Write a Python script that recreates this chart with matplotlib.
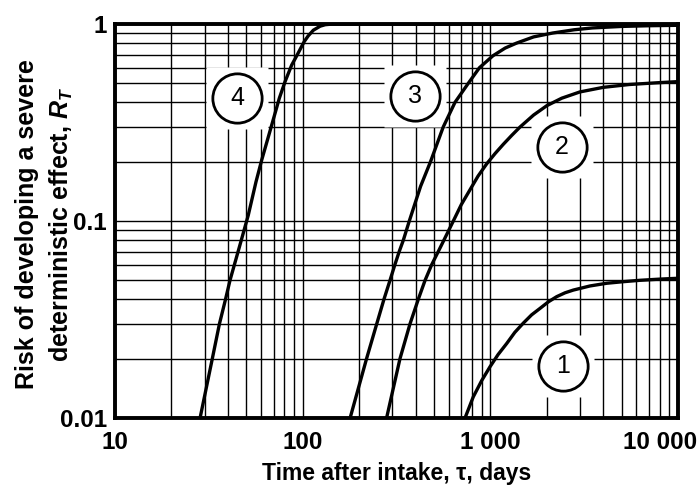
import matplotlib
matplotlib.use("Agg")
import matplotlib.pyplot as plt
from matplotlib.ticker import FixedLocator, NullFormatter, FixedFormatter

plt.rcParams['font.family'] = ['Liberation Sans', 'DejaVu Sans']
plt.rcParams['font.weight'] = 'bold'
plt.rcParams['mathtext.fontset'] = 'custom'
plt.rcParams['mathtext.it'] = 'Liberation Sans:bold:italic'
plt.rcParams['mathtext.rm'] = 'Liberation Sans:bold'

# ---- data ----
curve1_t = [733, 811, 900, 996, 1100, 1223, 1350, 1498, 1660, 1839, 2040, 2257, 2500, 2767, 3396, 4169, 5110, 6274, 8000, 10000]
curve1_r = [0.010, 0.0128, 0.0155, 0.0182, 0.0210, 0.0239, 0.0272, 0.0303, 0.0334, 0.0360, 0.0389, 0.0413, 0.0432, 0.0446, 0.0468, 0.0483, 0.0492, 0.0500, 0.0507, 0.0512]

curve2_t = [280, 330, 373, 413, 449, 487, 528, 566, 635, 700, 779, 860, 956, 1060, 1172, 1300, 1440, 1700, 2000, 2400, 3000, 4000, 5500, 7700, 10000]
curve2_r = [0.010, 0.020, 0.030, 0.040, 0.050, 0.060, 0.070, 0.080, 0.100, 0.121, 0.144, 0.169, 0.195, 0.220, 0.245, 0.272, 0.300, 0.345, 0.385, 0.420, 0.452, 0.477, 0.493, 0.503, 0.510]

curve3_t = [179, 219, 248, 271, 292, 310, 327, 344, 370, 425, 480, 561, 648, 763, 875, 1033, 1200, 1380, 1700, 2150, 2800, 3500, 5000, 7000, 10000]
curve3_r = [0.010, 0.020, 0.030, 0.040, 0.050, 0.060, 0.070, 0.080, 0.100, 0.150, 0.200, 0.300, 0.400, 0.500, 0.600, 0.690, 0.755, 0.800, 0.860, 0.900, 0.935, 0.955, 0.972, 0.980, 0.985]

curve4_t = [28.4, 33.0, 36.0, 38.8, 41.0, 45.8, 51.3, 56.4, 60.5, 68.4, 75.1, 80.5, 87.4, 93, 97.6, 102, 107, 114, 124, 132, 145, 10000]
curve4_r = [0.010, 0.020, 0.030, 0.040, 0.050, 0.0727, 0.107, 0.158, 0.204, 0.307, 0.420, 0.509, 0.619, 0.690, 0.753, 0.815, 0.870, 0.930, 0.975, 0.992, 1.0, 1.0]

curve_labels = ['1', '2', '3', '4']
label_t = [2429, 2399, 397, 44.7]
label_r = [0.0184, 0.238, 0.431, 0.421]

xticks = [10, 100, 1000, 10000]
xticklabels = ['10', '100', '1 000', '10 000']
yticks = [0.01, 0.1, 1]
yticklabels = ['0.01', '0.1', '1']

# ---- figure ----
fig = plt.figure(figsize=(6.98, 4.90), dpi=100)
ax = fig.add_axes([115/698, 1-418/490, (678-115)/698, (418-24)/490])
ax.set_xscale('log')
ax.set_yscale('log')
ax.set_xlim(10, 10000)
ax.set_ylim(0.01, 1)

# grid
ax.grid(True, which='both', color='black', linewidth=1.0)
ax.set_axisbelow(True)
for sp in ax.spines.values():
    sp.set_linewidth(2.8)
    sp.set_zorder(7)

for t, r in [(curve1_t, curve1_r), (curve2_t, curve2_r), (curve3_t, curve3_r), (curve4_t, curve4_r)]:
    ax.plot(t, r, color='black', linewidth=2.4, zorder=4,
            solid_capstyle='round', solid_joinstyle='round')

# circled labels with a white gap in the grid
for lab, t, r in zip(curve_labels, label_t, label_r):
    ax.plot([t], [r], marker='s', markersize=44, markerfacecolor='white',
            markeredgecolor='none', zorder=3, linestyle='none')
    ax.plot([t], [r], marker='o', markersize=35.5, markerfacecolor='white',
            markeredgecolor='black', markeredgewidth=2.0, zorder=5, linestyle='none')
    ax.text(t, r, lab, ha='center', va='center', fontsize=18, fontweight='normal', zorder=6)

ax.xaxis.set_major_locator(FixedLocator(xticks))
ax.xaxis.set_major_formatter(FixedFormatter(xticklabels[:-1] + ['']))
ax.xaxis.set_minor_formatter(NullFormatter())
ax.yaxis.set_major_locator(FixedLocator(yticks))
ax.yaxis.set_major_formatter(FixedFormatter(yticklabels))
ax.yaxis.set_minor_formatter(NullFormatter())
ax.tick_params(which='both', length=0)
ax.tick_params(axis='x', pad=9, labelsize=17.5)
ax.tick_params(axis='y', pad=6, labelsize=17.5)

# last x tick label shifted inward as in the reference
ax.annotate(xticklabels[-1], xy=(xticks[-1], 0), xycoords=('data', 'axes fraction'),
            xytext=(-13, -9), textcoords='offset points', ha='center', va='top',
            fontsize=17.5, fontweight='bold', annotation_clip=False)

ax.set_xlabel('Time after intake, τ, days', fontsize=16.5, fontweight='bold', labelpad=6)
fig.text(0.065, 1-224/490, 'Risk of developing a severe\ndeterministic effect, $R_T$',
         rotation=90, ha='center', va='center', multialignment='center',
         fontsize=18, fontweight='bold', linespacing=1.42)

fig.savefig('out.png', dpi=100)
